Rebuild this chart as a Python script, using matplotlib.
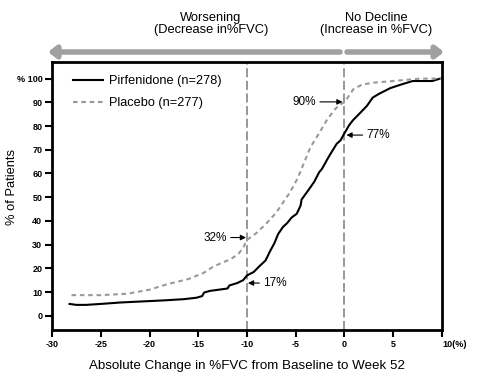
import numpy as np
import matplotlib.pyplot as plt
from matplotlib import transforms

plt.rcParams['font.family'] = ['Liberation Sans Narrow', 'Liberation Sans', 'DejaVu Sans']

# Cumulative distribution of %FVC change
pirf_x = [-28.2, -27.5, -26.5, -25.0, -23.0, -21.0, -18.5, -16.5, -15.2, -14.6, -14.4,
          -13.8, -12.0, -11.8, -11.0, -10.4, -10.0, -9.3, -8.7, -8.1, -7.6, -7.2, -6.8,
          -6.3, -5.9, -5.4, -4.9, -4.5, -4.4, -3.7, -3.1, -2.6, -2.3, -1.8, -1.4, -0.8,
          -0.4, 0.0, 0.5, 0.9, 1.6, 2.3, 2.9, 3.5, 4.7, 5.8, 7.0, 9.0, 9.8]
pirf_y = [5.0, 4.6, 4.6, 5.0, 5.6, 6.0, 6.5, 7.0, 7.6, 8.3, 9.8,
          10.5, 11.5, 12.8, 13.8, 15.0, 17.0, 18.5, 21.0, 23.3, 27.5, 30.5, 34.5,
          37.5, 39.0, 41.5, 43.0, 46.5, 49.0, 53.0, 56.5, 60.5, 62.0, 65.7, 68.5, 72.5,
          74.0, 77.0, 80.5, 82.6, 85.5, 88.5, 92.0, 93.5, 96.0, 97.5, 99.0, 99.0, 100.0]

plac_x = [-28.0, -25.0, -22.3, -20.0, -18.2, -16.0, -14.5, -13.5, -12.5, -11.7, -10.9,
          -10.4, -10.0, -9.0, -8.0, -7.0, -5.6, -4.8, -4.2, -3.5, -2.6, -1.8, -1.0,
          -0.5, 0.0, 0.9, 1.8, 3.0, 5.0, 7.7, 10.0]
plac_y = [8.7, 8.7, 9.3, 11.0, 13.3, 15.5, 18.0, 20.6, 22.5, 23.8, 26.0,
          28.6, 32.0, 35.0, 39.0, 43.5, 52.0, 58.0, 64.0, 71.0, 77.0, 82.6, 87.0,
          89.0, 90.0, 95.5, 97.5, 98.3, 99.0, 100.0, 100.0]

x_ticks = [-30, -25, -20, -15, -10, -5, 0, 5, 10]
x_labels = ['-30', '-25', '-20', '-15', '-10', '-5', '0', '5', '10(%)']
y_ticks = list(range(0, 101, 10))
y_labels = [str(v) for v in y_ticks[:-1]] + ['% 100']

fig = plt.figure(figsize=(4.83, 3.76), dpi=100)
ax = fig.add_axes([0.1077, 0.1223, 0.8073, 0.7127])

ax.axvline(-10, color='#909090', lw=1.3, ls=(0, (5, 2)))
ax.axvline(0, color='#909090', lw=1.3, ls=(0, (5, 2)))

ax.plot(pirf_x, pirf_y, color='black', lw=1.5, label='Pirfenidone (n=278)')
ax.plot(plac_x, plac_y, color='#999999', lw=1.5, ls=(0, (2.2, 1.8)), label='Placebo (n=277)')

ax.set_xlim(-30, 10)
ax.set_ylim(-6, 107)
ax.set_xticks(x_ticks)
ax.set_xticklabels(x_labels, fontsize=6.5, fontweight='bold')
ax.set_yticks(y_ticks)
ax.set_yticklabels(y_labels, fontsize=6.5, fontweight='bold')
lab = ax.get_xticklabels()[-1]
lab.set_ha('left')
lab.set_transform(lab.get_transform() + transforms.ScaledTranslation(-5 / 100, 0, fig.dpi_scale_trans))

for s in ax.spines.values():
    s.set_linewidth(2)
ax.tick_params(direction='out', length=5, width=1.5, pad=2)

ax.set_xlabel('Absolute Change in %FVC from Baseline to Week 52', fontsize=9.6, labelpad=8)
ax.set_ylabel('% of Patients', fontsize=9.3)
ax.yaxis.set_label_coords(-0.087, 0.534)

ax.legend(loc='upper left', bbox_to_anchor=(0.054, 0.95), frameon=False, fontsize=9.2,
          borderpad=0, borderaxespad=0,
          handlelength=2.35, handletextpad=0.45, labelspacing=0.75)

arrow = dict(arrowstyle='-|>', color='black', lw=0.8, mutation_scale=8, shrinkA=1, shrinkB=0)
ax.annotate('32%', xy=(-10.1, 33), xytext=(-13.3, 33), fontsize=8.5, ha='center', va='center', arrowprops=arrow)
ax.annotate('17%', xy=(-9.9, 13.8), xytext=(-7.1, 13.8), fontsize=8.5, ha='center', va='center', arrowprops=arrow)
ax.annotate('90%', xy=(-0.2, 90.2), xytext=(-4.15, 90.2), fontsize=8.5, ha='center', va='center', arrowprops=arrow)
ax.annotate('77%', xy=(0.2, 76.2), xytext=(3.5, 76.2), fontsize=8.5, ha='center', va='center', arrowprops=arrow)

# gray direction arrows above the plot
gray = dict(arrowstyle='-|>,head_length=0.45,head_width=0.35', color='#a0a0a0', lw=4, shrinkA=0, shrinkB=0)
fig.add_artist(plt.Annotation('', xy=(48 / 483, 1 - 52 / 376), xytext=(340 / 483, 1 - 52 / 376),
                              xycoords='figure fraction', arrowprops=gray))
fig.add_artist(plt.Annotation('', xy=(444 / 483, 1 - 52 / 376), xytext=(347 / 483, 1 - 52 / 376),
                              xycoords='figure fraction', arrowprops=gray))
fig.text(211 / 483, 1 - 24 / 376, 'Worsening\n(Decrease in%FVC)', fontsize=9.3, ha='center', va='center',
         linespacing=0.95)
fig.text(376 / 483, 1 - 24 / 376, 'No Decline\n(Increase in %FVC)', fontsize=9.3, ha='center', va='center',
         linespacing=0.95)

fig.savefig('out.png', dpi=100)
